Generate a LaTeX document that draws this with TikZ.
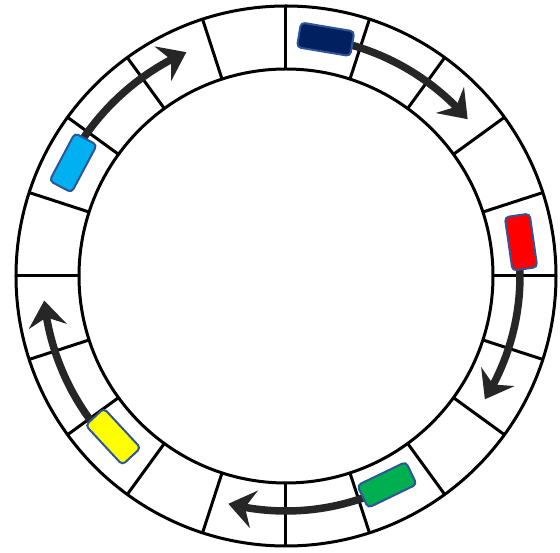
\documentclass[tikz,border=0pt]{standalone}
\usetikzlibrary{arrows.meta,bending}
\definecolor{carborder}{RGB}{47,85,151}
\definecolor{navycar}{RGB}{0,32,96}
\definecolor{redcar}{RGB}{255,0,0}
\definecolor{greencar}{RGB}{0,176,80}
\definecolor{yellowcar}{RGB}{255,255,0}
\definecolor{bluecar}{RGB}{0,176,240}
\definecolor{arrowgray}{RGB}{38,38,38}
\begin{document}
\begin{tikzpicture}[x=1pt,y=1pt,
  track/.style={line width=3pt, black},
  car/.style={draw=carborder, line width=2pt, rounded corners=4pt,
    minimum width=54pt, minimum height=25pt, inner sep=0pt},
  move/.style={line width=7.5pt, arrowgray,
    -{Stealth[length=26pt,width=38pt,inset=9pt]}}]
\useasboundingbox (-286,-277) rectangle (274,276);
% track
\draw[track] (0,0) circle[radius=270];
\draw[track] (0,0) circle[radius=207];
\foreach \a in {0,18,...,342} \draw[track] (\a:207) -- (\a:270);
% light blue car
\coordinate (ab) at (152:245);
\draw[move] (ab) arc[start angle=152, end angle=114, radius=245];
\node[car, fill=bluecar, rotate=62] (blue) at (152:241) {};
% navy car
\coordinate (an) at (80.5:240);
\draw[move] (an) arc[start angle=80.5, end angle=40.8, radius=240];
\node[car, fill=navycar, rotate=-9.5] (navy) at (80.5:240) {};
% red car
\coordinate (ar) at (8.2:234);
\draw[move] (ar) arc[start angle=8.2, end angle=-31.8, radius=234];
\node[car, fill=redcar, rotate=-81.8] (red) at (8.2:237.5) {};
% green car
\coordinate (ag) at (295.8:235);
\draw[move] (ag) arc[start angle=295.8, end angle=255.8, radius=235];
\node[car, fill=greencar, rotate=25.8] (green) at (295.8:232) {};
% yellow car
\coordinate (ay) at (222.9:243);
\draw[move] (ay) arc[start angle=222.9, end angle=185.8, radius=243];
\node[car, fill=yellowcar, rotate=132.9] (yellow) at (222.9:236) {};
\end{tikzpicture}
\end{document}
